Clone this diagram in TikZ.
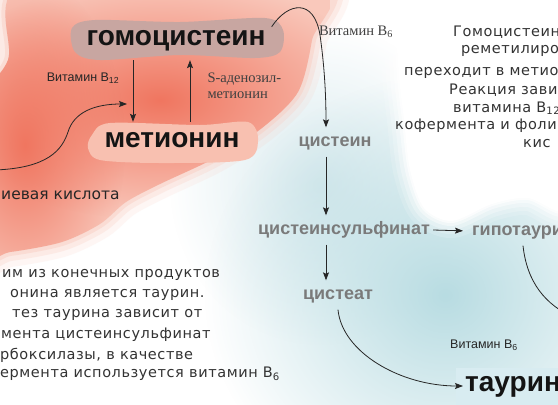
\documentclass[tikz,border=0pt]{standalone}
\usepackage{fontspec}
\setmainfont{Liberation Sans}
\newfontfamily\descfont[LetterSpace=4]{DejaVu Sans}
\newfontfamily\widesans{DejaVu Sans}
\newfontfamily\serifcyr{Liberation Serif}
\usetikzlibrary{arrows.meta,fadings}
\definecolor{pinkbg}{HTML}{F9C8BB}
\definecolor{pinkdeep}{HTML}{F07660}
\definecolor{homoblob}{HTML}{C8A6A1}
\definecolor{metblob}{HTML}{F8C0B0}
\definecolor{bluebg}{HTML}{B8DCE2}
\definecolor{bluewash}{HTML}{D8EAEE}
\definecolor{taurbox}{HTML}{D8ECF1}
\definecolor{midgray}{HTML}{7A7A7A}
\tikzfading[name=softedge, inner color=transparent!0, outer color=transparent!100]
\tikzset{
  bigname/.style={font=\fontsize{28}{30}\selectfont\bfseries, text=black!92, text height=16pt, text depth=5pt, inner xsep=2pt, inner ysep=9.5pt},
  midname/.style={font=\fontsize{18}{20}\selectfont\bfseries, text=midgray, text height=13pt, text depth=4pt, inner xsep=3pt, inner ysep=6pt},
  vitlabel/.style={font=\fontsize{12.5}{14}\selectfont, text=black!85},
  serlabel/.style={font=\serifcyr\fontsize{14.5}{16}\selectfont, text=black!75, align=left},
  desc/.style={font=\descfont\fontsize{14.5}{18}\selectfont, text=black!80, anchor=west, inner sep=0pt},
  arr/.style={-{Stealth[length=8pt,width=6pt,inset=1.5pt]}, line width=0.8pt, black!85}
}
\begin{document}
\begin{tikzpicture}[x=1pt,y=-1pt]
	\useasboundingbox (0,0) rectangle (558,405);
	\clip (0,0) rectangle (558,405);
	\fill[white] (0,0) rectangle (558,405);

	\fill[bluewash, path fading=softedge] (320,185) ellipse (150 and 160);
	\fill[bluebg, path fading=softedge] (445,295) ellipse (240 and 220);
	\foreach \w/\o in {34/0.15,26/0.2,18/0.3,10/0.45,4/0.7}
		\draw[white, line width=\w pt, opacity=\o] plot[smooth cycle] coordinates {(402,-20) (600,-20) (600,210) (560,212) (528,198) (492,204) (452,221) (424,208) (410,170) (404,120) (398,60)};
	\fill[white] plot[smooth cycle] coordinates {(402,-20) (600,-20) (600,210) (560,212) (528,198) (492,204) (452,221) (424,208) (410,170) (404,120) (398,60)};
	\fill[taurbox] (456,368) rectangle (562,408);

	\foreach \w/\o in {30/0.15,18/0.25,8/0.4}
		\draw[pinkbg, line width=\w pt, opacity=\o] plot[smooth cycle] coordinates {(30,-20) (318,-20) (312,40) (298,92) (262,128) (215,158) (160,184) (126,202) (100,224) (62,242) (10,252) (-20,252) (-20,110) (8,60)};
	\begin{scope}
		\clip plot[smooth cycle] coordinates {(30,-20) (318,-20) (312,40) (298,92) (262,128) (215,158) (160,184) (126,202) (100,224) (62,242) (10,252) (-20,252) (-20,110) (8,60)};
		\fill[pinkbg] (-20,-20) rectangle (330,260);
		\fill[pinkdeep, path fading=softedge] (160,100) ellipse (230 and 120);
		\fill[pinkdeep, path fading=softedge] (25,145) ellipse (100 and 170);
	\end{scope}

	\fill[homoblob] plot[smooth cycle] coordinates {(72,28) (95,20) (180,22) (265,18) (283,30) (280,52) (255,58) (180,55) (100,60) (75,52)};
	\fill[metblob] plot[smooth cycle] coordinates {(92,135) (110,123) (200,125) (248,122) (258,140) (245,160) (160,163) (100,160) (88,148)};

	\node[bigname] (homo) at (176,40) {гомоцистеин};
	\node[bigname] (met) at (172,142) {метионин};
	\node[bigname, anchor=west] (taur) at (463,386) {таурин};

	\node[midname] (cys) at (335,142) {цистеин};
	\node[midname] (csa) at (344,230) {цистеинсульфинат};
	\node[midname, anchor=west] (hypo) at (469,231) {гипотаурин};
	\node[midname] (cysteate) at (338,295) {цистеат};

	\node[vitlabel] (vb12) at (83,78) {Витамин B\textsubscript{12}};
	\node[serlabel, anchor=west] (sam) at (204,86) {S-аденозил-\\метионин};
	\node[serlabel] (vb6top) at (356,32) {Витамин B\textsubscript{6}};
	\node[vitlabel] (vb6bot) at (484,345) {Витамин B\textsubscript{6}};
	\node[vitlabel, anchor=west, inner sep=0pt, font=\widesans\fontsize{15.5}{18}\selectfont] (folic) at (1,195) {иевая кислота};

	\node[desc] (right1) at (453,32) {Гомоцистеин};
	\node[desc] (right2) at (461,51) {реметилиров};
	\node[desc] (right3) at (404,73) {переходит в метио};
	\node[desc] (right4) at (449,90) {Реакция завис};
	\node[desc] (right5) at (453,108) {витамина B\textsubscript{12}};
	\node[desc] (right6) at (395,126) {кофермента и фоли};
	\node[desc] (right7) at (523,144) {кис};

	\node[desc] (left1) at (2,275) {им из конечных продуктов};
	\node[desc] (left2) at (10,295) {онина является таурин.};
	\node[desc] (left3) at (12,315) {тез таурина зависит от};
	\node[desc] (left4) at (1,335) {мента цистеинсульфинат};
	\node[desc] (left5) at (0,355) {рбоксилазы, в качестве};
	\node[desc] (left6) at (0,374) {ермента используется витамин B\textsubscript{6}};

	\draw[arr] ([xshift=-43pt]homo.south) -- ([xshift=-39pt]met.north);
	\draw[arr] ([xshift=18pt]met.north) -- ([xshift=14pt]homo.south);
	\coordinate (folstart) at (-5,170);
	\coordinate (folend) at (127,104);
	\draw[arr] (folstart) .. controls (48,168) and (62,150) .. (68,132) .. controls (74,112) and (95,104) .. (folend);
	\draw[arr] ([shift={(4pt,-7pt)}]homo.north east) .. controls (288,2) and (314,-2) .. (320,35) .. controls (325,70) and (326,100) .. ([xshift=-9pt]cys.north);
	\draw[arr] ([xshift=-9pt]cys.south) -- ([xshift=-18pt]csa.north);
	\draw[arr] ([xshift=-18pt]csa.south) -- ([xshift=-12pt]cysteate.north);
	\draw[arr, shorten >=6pt] (csa.east) -- (hypo.west);
	\draw[arr] (cysteate.south) .. controls (342,352) and (400,386) .. (taur.west);
	\coordinate (hypoend) at (575,318);
	\draw[line width=0.8pt, black!85] ([xshift=54pt]hypo.south west) .. controls (527,282) and (545,305) .. (hypoend);
\end{tikzpicture}
\end{document}
